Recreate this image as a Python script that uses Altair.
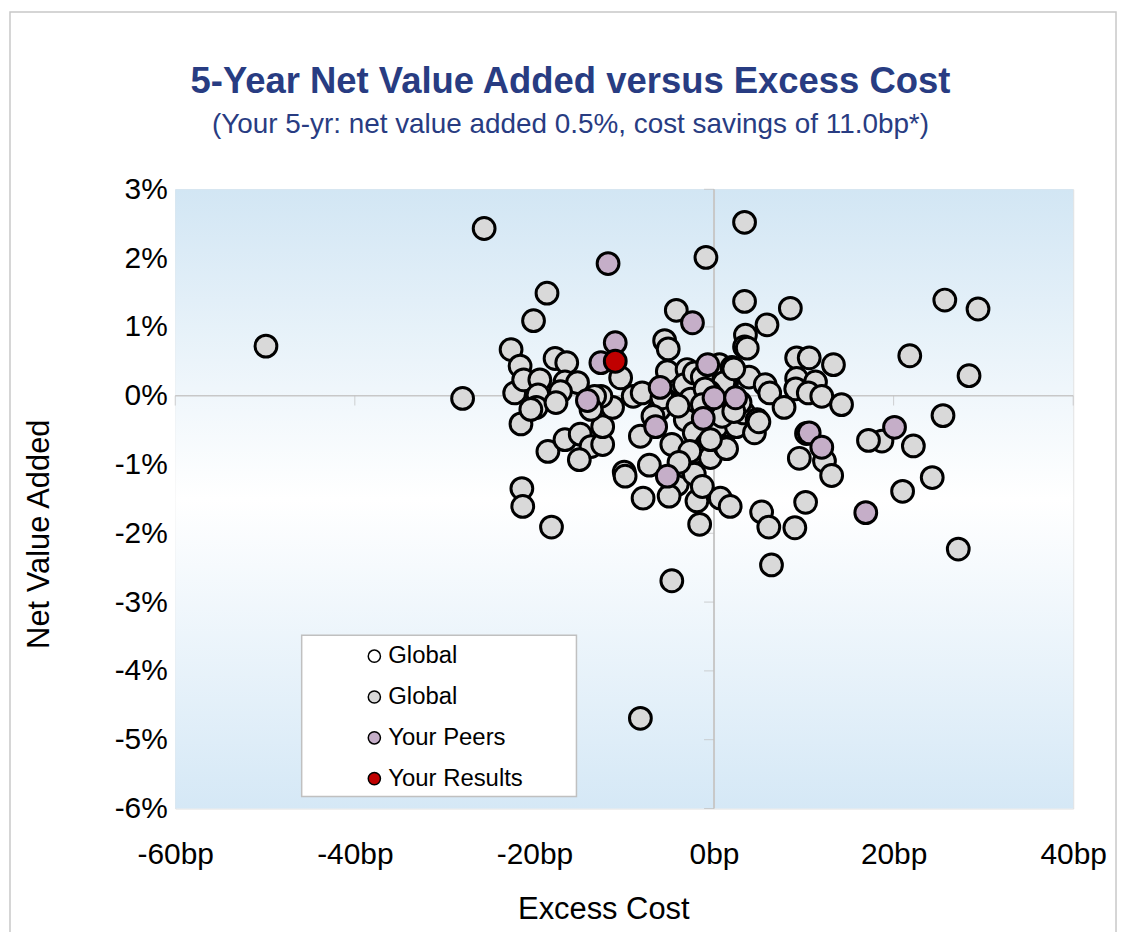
import altair as alt
import pandas as pd

# ---- data (excess cost in bp, net value added in %) ----
global_cost = [
    -49.9, -28.0, -25.6, -22.6, -21.6, -22.2, -21.2, -21.5, -21.4, -21.3,
    -20.1, -18.6, -19.4, -19.6, -19.8, -20.4, -17.7, -16.4, -16.6, -15.2,
    -17.1, -17.6, -18.5, -18.1, -16.6, -14.9, -13.7, -12.4, -15.0, -12.4,
    -11.3, -12.6, -13.3, -13.7, -10.4, -10.0, -9.9, -9.0, -8.0, -8.2,
    -7.2, -7.9, -5.5, -4.2, -0.9, 3.4, -5.2, -5.4, -6.1, -5.8,
    -4.7, -4.1, -5.0, -4.7, -8.2, -3.2, -2.2, -1.9, -1.3, -1.6,
    0.7, 1.8, -3.0, -1.9, -3.0, -1.6, -3.2, -1.6, -3.2, -2.2,
    0.3, -0.8, -2.1, -0.4, 0.6, 2.0, 1.4, 1.4, 2.5, 1.2,
    3.9, 5.7, 6.2, 3.3, 4.8, 4.5, 5.0, 3.4, 8.5, 5.9,
    3.5, 3.4, 9.2, 10.6, 13.3, 9.2, 11.3, 9.1, 10.5, 12.0,
    14.2, 7.8, 10.3, 9.5, 12.3, 13.1, 18.7, 17.2, 22.2, 25.5,
    21.8, 25.7, 29.4, 28.4, 24.3, 21.0, 27.2, 10.2, 5.3, 6.1,
    9.0, 6.4, -2.7, 1.4, -3.3, -2.2, -1.3, 1.1, 2.2, -0.5,
    -2.6, 0.9, -4.0, -6.8, 2.9, -1.0, -1.3, 2.2, -0.4, -3.9,
    -5.1, 3.7,
]
global_nva = [
    0.72, -0.04, 2.43, 0.67, 0.43, 0.04, 0.23, -0.41, -1.35, -1.61,
    1.09, 1.49, 0.23, 0.01, -0.17, -0.20, 0.54, 0.48, 0.20, 0.19,
    0.06, -0.10, -0.81, -1.91, -0.64, -0.56, -0.74, -0.71, -0.93, -0.45,
    -0.17, -0.01, -0.01, -0.20, 0.26, -1.11, -1.17, -0.01, 0.04, -0.59,
    -1.01, -1.49, 0.80, 1.24, 2.01, 2.52, 0.35, -0.06, -0.20, -0.03,
    -0.71, -1.29, -1.46, -2.69, -4.69, -1.03, -1.14, -1.53, -1.32, -1.87,
    -1.49, -1.61, 0.38, 0.30, 0.12, 0.13, -0.16, -0.16, -0.35, -0.54,
    -0.45, -0.71, -0.82, -0.90, 0.45, 0.41, 0.19, -0.20, -0.45, -0.74,
    0.27, 0.16, 0.04, -0.25, -0.35, -0.54, -0.38, 1.37, 1.27, 1.03,
    0.88, 0.71, 0.55, 0.55, 0.45, 0.25, 0.20, 0.10, 0.04, -0.01,
    -0.13, -0.17, -0.55, -0.91, -0.95, -1.16, -0.66, -0.65, -0.73, -0.29,
    0.58, 1.39, 1.26, 0.29, -1.19, -1.39, -2.23, -1.55, -1.69, -1.91,
    -1.92, -2.46, -0.81, -0.77, 0.16, 0.33, 0.27, 0.19, 0.39, 0.05,
    -0.05, -0.30, -0.15, -0.30, -0.10, 0.10, -0.13, -0.23, -0.64, -0.97,
    0.68, 0.69,
]
peers_cost = [-11.8, -2.4, -11.0, -12.6, -14.1, -6.0, -0.7, 0.0, 2.4, -1.2,
              -6.5, -5.2, 10.6, 12.0, 20.1, 16.9]
peers_nva = [1.92, 1.06, 0.77, 0.48, -0.07, 0.12, 0.45, -0.03, -0.03, -0.33,
             -0.45, -1.17, -0.54, -0.75, -0.46, -1.70]
results_cost = [-11.0]
results_nva = [0.5]

series_names = ["Global0", "Global", "Your Peers", "Your Results"]
series_colors = ["#ffffff", "#d9d9d9", "#c5aec8", "#c00000"]

x_ticks = [-60, -40, -20, 0, 20, 40]
y_ticks = [-6, -5, -4, -3, -2, -1, 0, 1, 2, 3]
x_domain = [-60, 40]
y_domain = [-6, 3]

FONT = "Liberation Sans"
W, H = 902, 622

rows = []
for c, v in zip(global_cost, global_nva):
    rows.append({"cost": c, "nva": v, "group": "Global", "ord": 0})
for c, v in zip(peers_cost, peers_nva):
    rows.append({"cost": c, "nva": v, "group": "Your Peers", "ord": 1})
for c, v in zip(results_cost, results_nva):
    rows.append({"cost": c, "nva": v, "group": "Your Results", "ord": 2})
df = pd.DataFrame(rows)

one = pd.DataFrame({"k": [0]})

bg = alt.Chart(one).mark_rect(
    fill=alt.LinearGradient(
        gradient="linear",
        stops=[
            alt.GradientStop(color="#d2e6f4", offset=0),
            alt.GradientStop(color="#ffffff", offset=0.5),
            alt.GradientStop(color="#d5e8f6", offset=1),
        ],
        x1=0, x2=0, y1=0, y2=1,
    )
).encode(
    x=alt.datum(x_domain[0]), x2=alt.datum(x_domain[1]),
    y=alt.datum(y_domain[1]), y2=alt.datum(y_domain[0]),
)

vline = alt.Chart(one).mark_rule(color="#c8c8c8", strokeWidth=2).encode(
    x=alt.datum(0), y=alt.datum(y_domain[1]), y2=alt.datum(y_domain[0])
)
hline = alt.Chart(one).mark_rule(color="#c8c8c8", strokeWidth=1.5).encode(
    y=alt.datum(0), x=alt.datum(x_domain[0]), x2=alt.datum(x_domain[1])
)

yt = alt.Chart(pd.DataFrame({"v": y_ticks})).mark_tick(
    orient="horizontal", size=10, thickness=1, color="#bdbdbd", xOffset=-5
).encode(y="v:Q", x=alt.datum(0))
xt = alt.Chart(pd.DataFrame({"v": x_ticks})).mark_tick(
    orient="vertical", size=10, thickness=1, color="#bdbdbd", yOffset=5
).encode(x="v:Q", y=alt.datum(0))

points = alt.Chart(df).mark_point(
    shape="circle", filled=True, opacity=1, fillOpacity=1, stroke="black", strokeWidth=3
).encode(
    x=alt.X(
        "cost:Q",
        scale=alt.Scale(domain=x_domain, nice=False, zero=False),
        axis=alt.Axis(
            values=x_ticks, labelExpr="datum.value + 'bp'", title="Excess Cost",
            grid=False, ticks=False, domain=False, labelFlush=False,
            labelFontSize=30, labelFont=FONT, labelColor="black", labelPadding=31,
            titleFontSize=31, titleFont=FONT, titleFontWeight="normal", titleColor="black",
            titleX=430, titleY=102, titleAlign="center", titleBaseline="middle",
        ),
    ),
    y=alt.Y(
        "nva:Q",
        scale=alt.Scale(domain=y_domain, nice=False, zero=False),
        axis=alt.Axis(
            values=y_ticks, labelExpr="datum.value + '%'", title="Net Value Added",
            grid=False, ticks=False, domain=False, labelOverlap=False, labelFlush=False,
            labelFontSize=30, labelFont=FONT, labelColor="black", labelPadding=8,
            titleFontSize=31, titleFont=FONT, titleFontWeight="normal", titleColor="black",
            titleX=-136, titleY=346, titleAngle=270, titleAlign="center", titleBaseline="middle",
        ),
    ),
    fill=alt.Fill(
        "group:N",
        scale=alt.Scale(domain=series_names, range=series_colors),
        legend=alt.Legend(
            title=None, orient="none", legendX=188, legendY=457,
            labelExpr="datum.label == 'Global0' ? 'Global' : datum.label",
            labelFontSize=24, labelFont=FONT, labelColor="black", labelOffset=2,
            symbolType="circle", symbolSize=150, symbolStrokeColor="black",
            symbolStrokeWidth=1.5, rowPadding=17, padding=0,
        ),
    ),
    size=alt.value(480),
    order=alt.Order("ord:Q"),
)

legend_box = alt.Chart(one).mark_rect(fill="white", stroke="#c0c0c0", strokeWidth=1.5).encode(
    x=alt.value(127), x2=alt.value(403), y=alt.value(448), y2=alt.value(610)
)

outer = alt.Chart(one).mark_rect(fill=None, stroke="#c8c8c8", strokeWidth=1.5).encode(
    x=alt.value(-166), x2=alt.value(945), y=alt.value(-178), y2=alt.value(760)
)

chart = alt.layer(outer, bg, vline, hline, yt, xt, points, legend_box).properties(
    width=W, height=H,
    title=alt.TitleParams(
        text="5-Year Net Value Added versus Excess Cost",
        subtitle="(Your 5-yr: net value added 0.5%, cost savings of 11.0bp*)",
        font=FONT, fontSize=36.6, fontWeight="bold", color="#283c82",
        subtitleFont=FONT, subtitleFontSize=28, subtitleColor="#283c82",
        subtitlePadding=10, anchor="middle", dx=-54, offset=-128, frame="group",
    ),
    autosize=alt.AutoSizeParams(type="none"),
    padding={"left": 168, "top": 180, "right": 46, "bottom": 122},
).configure_view(
    stroke="#b4b4b4", strokeWidth=2
).configure(background="white")

chart.save("out.html", embed_options={"renderer": "svg", "actions": False})
